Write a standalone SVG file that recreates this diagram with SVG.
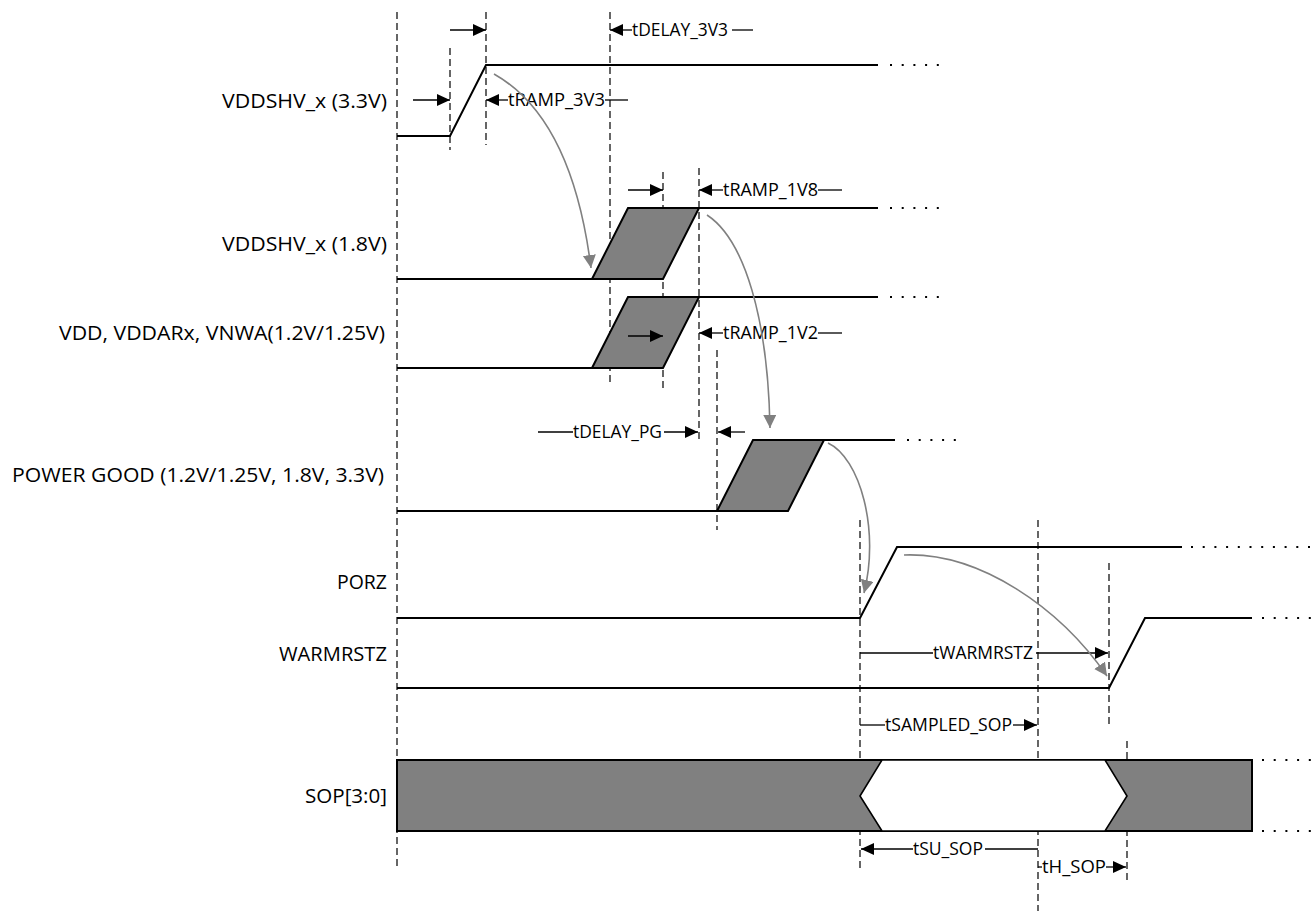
<svg xmlns="http://www.w3.org/2000/svg" width="1315" height="911" viewBox="0 0 1315 911">
<defs>
<style>
.sig{fill:none;stroke:#000;stroke-width:2;stroke-linejoin:miter}
.shade{fill:#808080;stroke:#000;stroke-width:2;stroke-linejoin:miter}
.dash{stroke:#000;stroke-width:1.2;stroke-dasharray:7 4;fill:none}
.dots{stroke:#000;stroke-width:2;stroke-dasharray:2 9.7;fill:none}
.dim{stroke:#000;stroke-width:1.3;fill:none}
.arr{marker-end:url(#ah)}
.curve{stroke:#808080;stroke-width:1.6;fill:none;marker-end:url(#gh)}
.lbl{font-family:"Open Sans","Liberation Sans",sans-serif;font-size:20px;fill:#000}
.tl{font-family:"Open Sans","Liberation Sans",sans-serif;font-size:18px;fill:#000}
</style>
<marker id="ah" markerUnits="userSpaceOnUse" markerWidth="14" markerHeight="12" refX="13" refY="6" orient="auto"><path d="M0,0 L13,6 L0,12 z" fill="#000"/></marker>
<marker id="gh" markerUnits="userSpaceOnUse" markerWidth="14" markerHeight="14" refX="13" refY="6.5" orient="auto"><path d="M0,0 L13,6.5 L0,13 z" fill="#808080"/></marker>
</defs>
<rect width="1315" height="911" fill="#fff"/>

<g id="guides">
<line class="dash" x1="397" y1="12" x2="397" y2="870"/>
<line class="dash" x1="450" y1="48" x2="450" y2="150"/>
<line class="dash" x1="486" y1="12" x2="486" y2="145"/>
<line class="dash" x1="610" y1="12" x2="610" y2="386"/>
<line class="dash" x1="663" y1="172" x2="663" y2="388"/>
<line class="dash" x1="699" y1="168" x2="699" y2="440"/>
<line class="dash" x1="717" y1="350" x2="717" y2="530"/>
<line class="dash" x1="860" y1="520" x2="860" y2="870"/>
<line class="dash" x1="1038" y1="520" x2="1038" y2="911"/>
<line class="dash" x1="1109" y1="563" x2="1109" y2="724"/>
<line class="dash" x1="1127" y1="741" x2="1127" y2="882"/>
</g>

<g id="sig-vddshv33">
<text class="lbl" x="387" y="108" text-anchor="end" textLength="165" lengthAdjust="spacingAndGlyphs">VDDSHV_x (3.3V)</text>
<polyline class="sig" points="397,136 450,136 486,65 878,65"/>
<line class="dots" x1="890" y1="65" x2="945" y2="65"/>
</g>

<g id="sig-vddshv18">
<text class="lbl" x="387" y="251" text-anchor="end" textLength="165" lengthAdjust="spacingAndGlyphs">VDDSHV_x (1.8V)</text>
<polygon class="shade" points="592,279 628,208 699,208 663,279"/>
<polyline class="sig" points="397,279 592,279"/>
<polyline class="sig" points="699,208 878,208"/>
<line class="dots" x1="890" y1="208" x2="945" y2="208"/>
</g>

<g id="sig-vdd12">
<text class="lbl" x="385" y="340" text-anchor="end" textLength="326" lengthAdjust="spacingAndGlyphs">VDD, VDDARx, VNWA(1.2V/1.25V)</text>
<polygon class="shade" points="592,368 628,297 699,297 663,368"/>
<polyline class="sig" points="397,368 592,368"/>
<polyline class="sig" points="699,297 878,297"/>
<line class="dots" x1="890" y1="297" x2="945" y2="297"/>
</g>

<g id="sig-powergood">
<text class="lbl" x="384" y="482" text-anchor="end" textLength="372" lengthAdjust="spacingAndGlyphs">POWER GOOD (1.2V/1.25V, 1.8V, 3.3V)</text>
<polygon class="shade" points="717,511 753,440 824,440 788,511"/>
<polyline class="sig" points="397,511 717,511"/>
<polyline class="sig" points="824,440 895,440"/>
<line class="dots" x1="907" y1="440" x2="962" y2="440"/>
</g>

<g id="sig-porz">
<text class="lbl" x="387" y="589" text-anchor="end" textLength="50" lengthAdjust="spacingAndGlyphs">PORZ</text>
<polyline class="sig" points="397,618 860,618 897,547 1182,547"/>
<line class="dots" x1="1191" y1="547" x2="1315" y2="547"/>
</g>

<g id="sig-warmrstz">
<text class="lbl" x="387" y="661" text-anchor="end" textLength="108" lengthAdjust="spacingAndGlyphs">WARMRSTZ</text>
<polyline class="sig" points="397,688 1109,688 1145,618 1252,618"/>
<line class="dots" x1="1262" y1="618" x2="1315" y2="618"/>
</g>

<g id="sig-sop">
<text class="lbl" x="387" y="803" text-anchor="end" textLength="82" lengthAdjust="spacingAndGlyphs">SOP[3:0]</text>
<rect class="shade" x="397" y="760" width="855" height="71"/>
<polygon points="860,796 882,760 1105,760 1127,796 1105,831 882,831" fill="#fff" stroke="#000" stroke-width="1.6" stroke-linejoin="miter"/>
<line class="dots" x1="1262" y1="760" x2="1315" y2="760"/>
<line class="dots" x1="1262" y1="831" x2="1315" y2="831"/>
</g>

<g id="connectors">
<line class="dim arr" x1="450" y1="30" x2="486" y2="30"/>
<line class="dim arr" x1="632" y1="30" x2="610" y2="30"/>
<text class="tl" x="632" y="36" textLength="96" lengthAdjust="spacingAndGlyphs">tDELAY_3V3</text>
<line class="dim" x1="732" y1="30" x2="753" y2="30"/>

<line class="dim arr" x1="413" y1="100" x2="450" y2="100"/>
<line class="dim arr" x1="508" y1="100" x2="486" y2="100"/>
<text class="tl" x="508" y="106" textLength="97" lengthAdjust="spacingAndGlyphs">tRAMP_3V3</text>
<line class="dim" x1="605" y1="100" x2="628" y2="100"/>

<line class="dim arr" x1="628" y1="190" x2="663" y2="190"/>
<line class="dim arr" x1="723" y1="190" x2="699" y2="190"/>
<text class="tl" x="723" y="196" textLength="95" lengthAdjust="spacingAndGlyphs">tRAMP_1V8</text>
<line class="dim" x1="818" y1="190" x2="842" y2="190"/>

<line class="dim arr" x1="628" y1="336" x2="663" y2="336"/>
<line class="dim arr" x1="723" y1="333" x2="699" y2="333"/>
<text class="tl" x="723" y="339" textLength="95" lengthAdjust="spacingAndGlyphs">tRAMP_1V2</text>
<line class="dim" x1="818" y1="333" x2="842" y2="333"/>

<line class="dim" x1="538" y1="432" x2="573" y2="432"/>
<text class="tl" x="573" y="438" textLength="89" lengthAdjust="spacingAndGlyphs">tDELAY_PG</text>
<line class="dim arr" x1="664" y1="432" x2="698" y2="432"/>
<line class="dim arr" x1="745" y1="432" x2="718" y2="432"/>

<line class="dim" x1="860" y1="653" x2="933" y2="653"/>
<text class="tl" x="933" y="659" textLength="100" lengthAdjust="spacingAndGlyphs">tWARMRSTZ</text>
<line class="dim arr" x1="1036" y1="653" x2="1108" y2="653"/>

<line class="dim" x1="860" y1="725" x2="885" y2="725"/>
<text class="tl" x="885" y="731" textLength="127" lengthAdjust="spacingAndGlyphs">tSAMPLED_SOP</text>
<line class="dim arr" x1="1013" y1="725" x2="1037" y2="725"/>

<line class="dim arr" x1="913" y1="849" x2="861" y2="849"/>
<text class="tl" x="913" y="855" textLength="70" lengthAdjust="spacingAndGlyphs">tSU_SOP</text>
<line class="dim" x1="985" y1="849" x2="1038" y2="849"/>

<line class="dim" x1="1038" y1="867" x2="1042" y2="867"/>
<text class="tl" x="1042" y="873" textLength="64" lengthAdjust="spacingAndGlyphs">tH_SOP</text>
<line class="dim arr" x1="1106" y1="867" x2="1126" y2="867"/>

<path class="curve" d="M494,74 Q572,118 591,268"/>
<path class="curve" d="M707,215 C745,240 768,320 770,428"/>
<path class="curve" d="M828,443 C860,458 880,530 864,593"/>
<path class="curve" d="M904,555 C980,552 1060,608 1107,676"/>
</g>
</svg>
